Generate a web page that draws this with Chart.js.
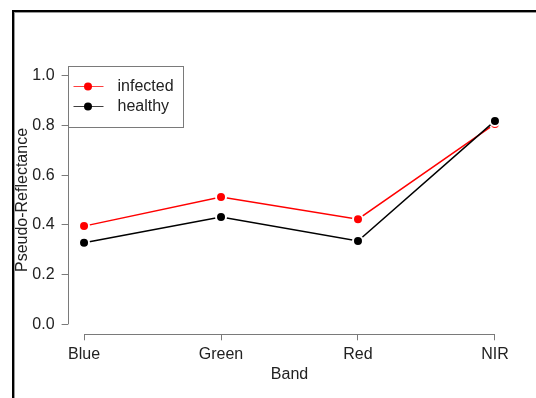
<!DOCTYPE html>
<html>
<head>
<meta charset="utf-8">
<script src="https://cdn.jsdelivr.net/npm/chart.js@4"></script>
<style>
  html, body { margin: 0; padding: 0; background: #fff; overflow: hidden; }
  #wrap { position: relative; width: 536px; height: 398px; }
</style>
</head>
<body>
<div id="wrap"><canvas id="chart" width="536" height="398"></canvas></div>
<script>
// Data
const bands = ['Blue', 'Green', 'Red', 'NIR'];
const infected = [0.395, 0.512, 0.423, 0.806];
const healthy = [0.328, 0.432, 0.335, 0.818];
const yTicks = [0.0, 0.2, 0.4, 0.6, 0.8, 1.0];
const seriesNames = ['infected', 'healthy'];
const seriesColors = ['#ff0000', '#000000'];

const FONT = '"Liberation Sans", Arial, sans-serif';
const AXIS_GRAY = '#7a7a7a';
const TEXT = '#222';

const toPoints = vals => vals.map((v, i) => ({ x: i + 1, y: v }));

// R-style axis lines: only span first..last tick
const axisLines = {
  id: 'axisLines',
  afterDraw(chart) {
    const { ctx, chartArea, scales: { x, y } } = chart;
    ctx.save();
    ctx.strokeStyle = AXIS_GRAY;
    ctx.lineWidth = 1;
    const lx = Math.round(chartArea.left) + 0.5;
    const by = Math.round(chartArea.bottom) + 0.5;
    ctx.beginPath();
    ctx.moveTo(lx, y.getPixelForValue(yTicks[0]));
    ctx.lineTo(lx, y.getPixelForValue(yTicks[yTicks.length - 1]));
    ctx.moveTo(x.getPixelForValue(1), by);
    ctx.lineTo(x.getPixelForValue(bands.length), by);
    ctx.stroke();
    ctx.restore();
  }
};

// legend box in the top-left corner of the plot region
const boxLegend = {
  id: 'boxLegend',
  afterDraw(chart) {
    const { ctx, chartArea } = chart;
    const left = Math.round(chartArea.left) + 0.5;
    const top = Math.round(chartArea.top) + 0.5;
    ctx.save();
    ctx.strokeStyle = AXIS_GRAY;
    ctx.lineWidth = 1;
    ctx.strokeRect(left, top, 115, 61);
    ctx.font = '16px ' + FONT;
    ctx.textBaseline = 'middle';
    seriesNames.forEach((name, i) => {
      const yy = top + 20 + i * 20;
      ctx.strokeStyle = seriesColors[i];
      ctx.globalAlpha = 0.75;
      ctx.beginPath();
      ctx.moveTo(left + 5, yy);
      ctx.lineTo(left + 35, yy);
      ctx.stroke();
      ctx.globalAlpha = 1;
      ctx.fillStyle = seriesColors[i];
      ctx.beginPath();
      ctx.arc(left + 19.5, yy, 4, 0, Math.PI * 2);
      ctx.fill();
      ctx.fillStyle = TEXT;
      ctx.fillText(name, left + 49, yy);
    });
    ctx.restore();
  }
};

// outer frame of the figure (cropped on right/bottom)
const frame = {
  id: 'frame',
  afterDraw(chart) {
    const { ctx } = chart;
    ctx.save();
    ctx.fillStyle = '#000';
    ctx.fillRect(12, 10, 600, 2);
    ctx.fillRect(12, 10, 2, 400);
    ctx.fillStyle = '#999';
    ctx.fillRect(14, 12, 600, 1);
    ctx.fillRect(14, 12, 1, 400);
    ctx.restore();
  }
};

new Chart(document.getElementById('chart'), {
  type: 'line',
  data: {
    datasets: [{
      label: seriesNames[0],
      data: toPoints(infected),
      borderColor: seriesColors[0],
      backgroundColor: seriesColors[0],
      pointBackgroundColor: seriesColors[0],
      pointBorderColor: '#fff',
      pointBorderWidth: 2,
      pointRadius: 5,
      borderWidth: 1.5,
      order: 1
    }, {
      label: seriesNames[1],
      data: toPoints(healthy),
      borderColor: seriesColors[1],
      backgroundColor: seriesColors[1],
      pointBackgroundColor: seriesColors[1],
      pointBorderColor: '#fff',
      pointBorderWidth: 2,
      pointRadius: 5,
      borderWidth: 1.5,
      order: 0
    }]
  },
  options: {
    responsive: false,
    animation: false,
    devicePixelRatio: 1,
    clip: false,
    layout: { padding: { left: 0, right: 24.6, top: 65.7, bottom: 0 } },
    plugins: { legend: { display: false }, tooltip: { enabled: false } },
    scales: {
      x: {
        type: 'linear',
        min: 0.88,
        max: 4.12,
        afterBuildTicks: axis => { axis.ticks = bands.map((b, i) => ({ value: i + 1 })); },
        afterFit: axis => { axis.height = 63.7; },
        ticks: {
          autoSkip: false,
          maxRotation: 0,
          padding: 5,
          color: TEXT,
          font: { family: FONT, size: 16 },
          callback: v => bands[Math.round(v) - 1]
        },
        grid: { drawOnChartArea: false, drawTicks: true, tickLength: 6, color: AXIS_GRAY },
        border: { display: false },
        title: {
          display: true,
          text: 'Band',
          color: TEXT,
          font: { family: FONT, size: 16 },
          padding: { top: 0, bottom: 14 }
        }
      },
      y: {
        min: -0.04,
        max: 1.04,
        afterBuildTicks: axis => { axis.ticks = yTicks.map(v => ({ value: v })); },
        afterFit: axis => { axis.width = 67.6; },
        ticks: {
          padding: 7,
          color: TEXT,
          font: { family: FONT, size: 16 },
          callback: v => v.toFixed(1)
        },
        grid: { drawOnChartArea: false, drawTicks: true, tickLength: 6, color: AXIS_GRAY },
        border: { display: false },
        title: {
          display: true,
          text: 'Pseudo-Reflectance',
          color: TEXT,
          font: { family: FONT, size: 16 },
          padding: { top: 13, bottom: 0 }
        }
      }
    }
  },
  plugins: [axisLines, boxLegend, frame]
});
</script>
</body>
</html>
